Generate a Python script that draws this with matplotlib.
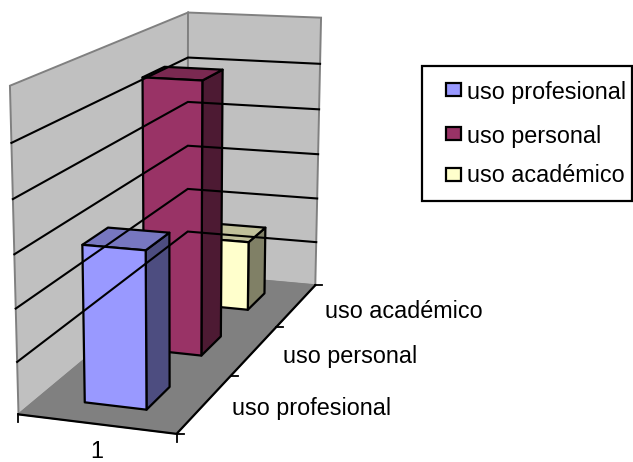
import numpy as np
import matplotlib
matplotlib.use("Agg")
import matplotlib.pyplot as plt
from matplotlib.patches import Polygon, Rectangle

plt.rcParams["font.family"] = ["Liberation Sans", "DejaVu Sans"]

categories = ["uso profesional", "uso personal", "uso académico"]
values = [30, 55, 15]
z_ticks = [10, 20, 30, 40, 50]
z_max = 60
front_colors = ["#9999FF", "#993366", "#FFFFCC"]
top_colors = ["#7777C0", "#7A2951", "#C0C09A"]
side_colors = ["#4D4D80", "#4D1A33", "#808066"]

# box corners (x, depth, height) and where they land in the figure, in pixels
box = [(0, 0, 0), (1, 0, 0), (1, 1, 0), (0, 1, 0), (0, 0, 1), (0, 1, 1), (1, 1, 1)]
px = [(18, 413), (177, 435), (315, 284), (188, 275), (10, 86), (188, 12), (321, 18)]

rows = []
for (X, Y, Z), (u, v) in zip(box, px):
    rows.append([X, Y, Z, 1, 0, 0, 0, 0, -u * X, -u * Y, -u * Z, -u])
    rows.append([0, 0, 0, 0, X, Y, Z, 1, -v * X, -v * Y, -v * Z, -v])
P = np.linalg.svd(np.array(rows))[2][-1].reshape(3, 4)


def project(x, d, z):
    h = P @ np.array([x, d, z, 1.0])
    return h[0] / h[2], h[1] / h[2]


def face(points, **kw):
    ax.add_patch(Polygon([project(*p) for p in points], closed=True, **kw))


fig = plt.figure(figsize=(6.33, 4.62), dpi=100)
ax = fig.add_axes([0, 0, 1, 1])
ax.set_xlim(0, 633)
ax.set_ylim(462, 0)
ax.axis("off")

# walls and floor
wall = dict(facecolor="#C0C0C0", edgecolor="#808080", linewidth=1.4)
face([(0, 0, 0), (0, 1, 0), (0, 1, 1), (0, 0, 1)], **wall)
face([(0, 1, 0), (1, 1, 0), (1, 1, 1), (0, 1, 1)], **wall)
face([(0, 0, 0), (1, 0, 0), (1, 1, 0), (0, 1, 0)], facecolor="#808080", edgecolor="#808080", linewidth=1)

# gridlines run along both walls
for t in z_ticks:
    z = t / z_max
    pts = [project(0, 0, z), project(0, 1, z), project(1, 1, z)]
    ax.plot(*zip(*pts), color="black", lw=1.5, solid_joinstyle="miter")

# floor axes
ax.plot(*zip(*[project(0, 0, 0), project(1, 0, 0), project(1, 1, 0)]), color="black", lw=1.6)
for d in np.arange(0, 4) / 3:
    x0, y0 = project(1, d, 0)
    ax.plot([x0, x0 + 7], [y0, y0], color="black", lw=1.3)
for x in [0, 1]:
    x0, y0 = project(x, 0, 0)
    ax.plot([x0, x0], [y0, y0 + 8], color="black", lw=1.3)

# bars, back to front
n = len(values)
x0, x1 = 0.3, 0.7
for i in range(n - 1, -1, -1):
    d0 = (i + 0.3) / n
    d1 = (i + 0.7) / n
    z = values[i] / z_max
    edge = dict(edgecolor="black", linewidth=1.6, joinstyle="round")
    face([(x1, d0, 0), (x1, d1, 0), (x1, d1, z), (x1, d0, z)], facecolor=side_colors[i], **edge)
    face([(x0, d0, z), (x1, d0, z), (x1, d1, z), (x0, d1, z)], facecolor=top_colors[i], **edge)
    face([(x0, d0, 0), (x1, d0, 0), (x1, d0, z), (x0, d0, z)], facecolor=front_colors[i], **edge)

# axis labels
ax.text(97, 451, "1", fontsize=16.8, ha="center", va="center")
label_pos = [(232, 408), (283, 357), (325, 311)]
for name, (lx, ly) in zip(categories, label_pos):
    ax.text(lx, ly, name, fontsize=16.8, ha="left", va="center")

# legend box
ax.add_patch(Rectangle((422, 66), 210, 135, facecolor="white", edgecolor="black", linewidth=1.6))
legend_y = [93, 136, 176]
swatch_y = [83, 127, 168]
for name, color, ly, sy in zip(categories, front_colors, legend_y, swatch_y):
    ax.add_patch(Rectangle((446, sy), 15, 13, facecolor=color, edgecolor="black", linewidth=1.6))
    ax.text(467, ly, name, fontsize=16.8, ha="left", va="center")

fig.savefig("out.png", dpi=100, facecolor="white")
